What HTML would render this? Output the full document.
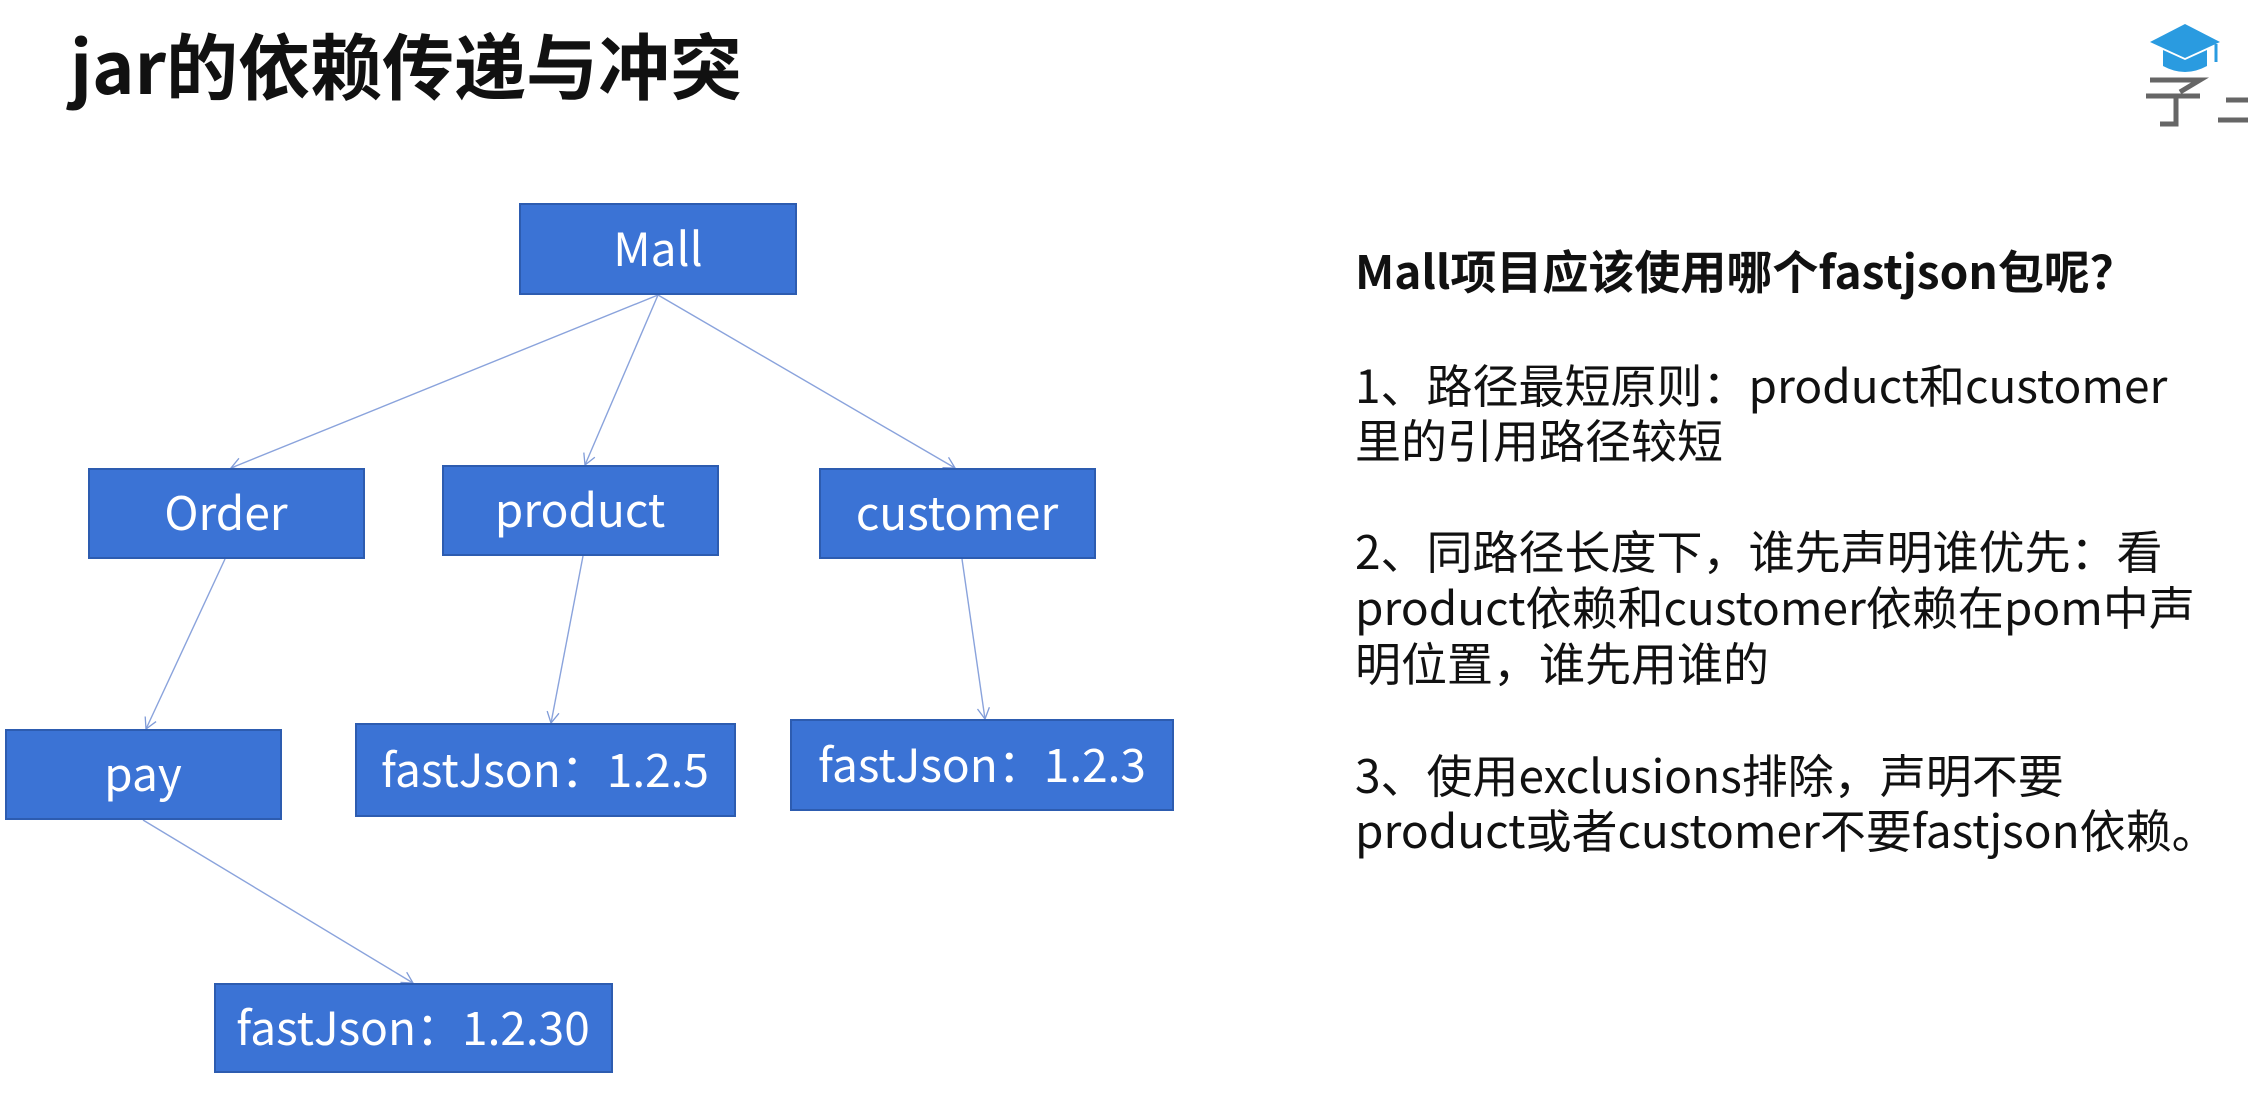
<!DOCTYPE html>
<html><head><meta charset="utf-8"><style>
html,body{margin:0;padding:0;background:#fff;}
body{width:2248px;height:1106px;position:relative;overflow:hidden;font-family:"Liberation Sans","Noto Sans CJK SC",sans-serif;}
.t{position:absolute;font-family:"Noto Sans CJK SC","Liberation Sans",sans-serif;color:#111;white-space:nowrap;}
</style></head><body>
<svg width="2248" height="1106" style="position:absolute;left:0;top:0">
<defs><marker id="a" markerWidth="14" markerHeight="14" refX="12" refY="7" orient="auto" markerUnits="userSpaceOnUse"><path d="M1,1 L12,7 L1,13" fill="none" stroke="#7f9bd8" stroke-width="1.3"/></marker></defs>
<g stroke="#8aa3dc" stroke-width="1.4" fill="none" marker-end="url(#a)">
<line x1="658" y1="295" x2="231" y2="468"/>
<line x1="658" y1="295" x2="585" y2="465"/>
<line x1="658" y1="295" x2="955" y2="468"/>
<line x1="225" y1="559" x2="146" y2="729"/>
<line x1="583" y1="556" x2="551" y2="723"/>
<line x1="962" y1="559" x2="985" y2="719"/>
<line x1="143" y1="820" x2="413" y2="983"/>
</g>
<g fill="#3b73d5" stroke="#2d5cb0" stroke-width="2">
<rect x="520" y="204" width="276" height="90"/>
<rect x="89" y="469" width="275" height="89"/>
<rect x="443" y="466" width="275" height="89"/>
<rect x="820" y="469" width="275" height="89"/>
<rect x="6" y="730" width="275" height="89"/>
<rect x="356" y="724" width="379" height="92"/>
<rect x="791" y="720" width="382" height="90"/>
<rect x="215" y="984" width="397" height="88"/>
</g>
<g fill="#fff" font-family="Noto Sans CJK SC, Liberation Sans, sans-serif" font-size="46" text-anchor="middle" dominant-baseline="central">
<text x="658" y="247">Mall</text>
<text x="226" y="511">Order</text>
<text x="580" y="508">product</text>
<text x="957" y="511">customer</text>
<text x="143" y="772">pay</text>
<text x="545" y="768">fastJson：1.2.5</text>
<text x="982" y="763">fastJson：1.2.3</text>
<text x="413" y="1026">fastJson：1.2.30</text>
</g>
<!-- logo -->
<path d="M2150,42 L2185,24 L2220,42 L2185,58 Z" fill="#2a9be0"/>
<path d="M2163,50 L2163,66 Q2185,78 2207,66 L2207,50 L2185,60 Z" fill="#2a9be0"/>
<line x1="2216" y1="44" x2="2216" y2="62" stroke="#2a9be0" stroke-width="3"/>
<g stroke="#666" stroke-width="5" fill="none">
<line x1="2146" y1="96" x2="2200" y2="96"/>
<path d="M2150,80 L2200,80 L2180,92"/>
<path d="M2176,96 L2176,124 L2160,124"/>
<line x1="2218" y1="120" x2="2248" y2="120"/>
<line x1="2226" y1="100" x2="2248" y2="100"/>
</g>
</svg>
<div class="t" style="left:70px;top:10px;font-size:72px;font-weight:bold;">jar的依赖传递与冲突</div>
<div class="t" style="left:1355px;top:243px;font-size:46px;line-height:54px;font-weight:bold;">Mall项目应该使用哪个fastjson包呢？</div>
<div class="t" style="left:1355px;top:357px;font-size:46px;line-height:55px;">1、路径最短原则：product和customer<br>里的引用路径较短</div>
<div class="t" style="left:1355px;top:522px;font-size:46px;line-height:56px;">2、同路径长度下，谁先声明谁优先：看<br>product依赖和customer依赖在pom中声<br>明位置，谁先用谁的</div>
<div class="t" style="left:1355px;top:747px;font-size:46px;line-height:55px;">3、使用exclusions排除，声明不要<br>product或者customer不要fastjson依赖。</div>
</body></html>
